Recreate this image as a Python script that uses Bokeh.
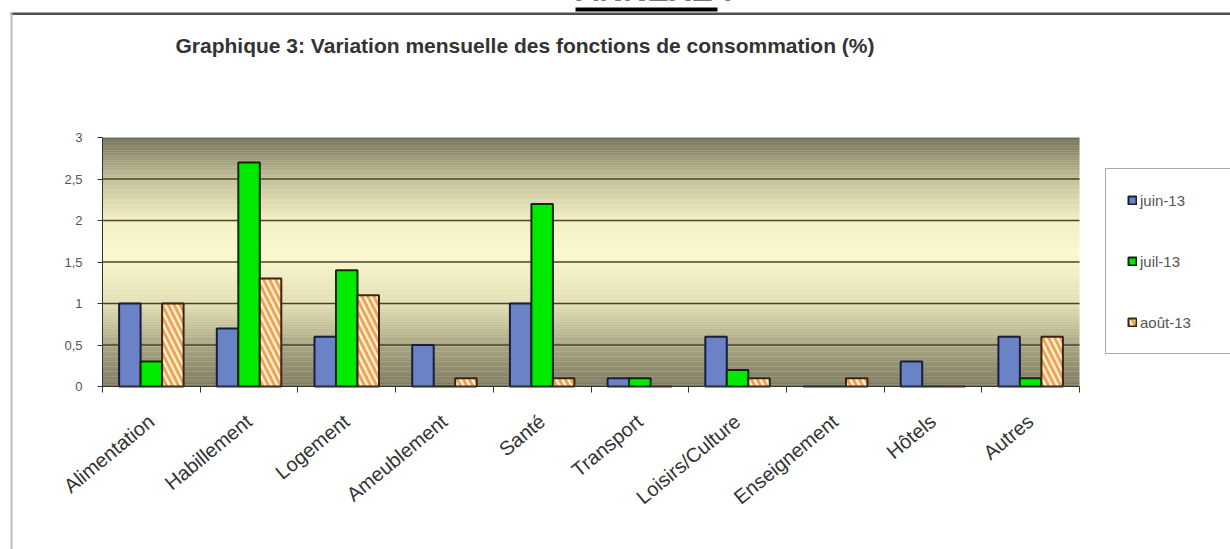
import numpy as np
from bokeh.plotting import figure
from bokeh.models import (ColumnDataSource, FixedTicker, CustomJSTickFormatter, Label,
                          Legend, LegendItem, BoxAnnotation, Range1d)
from bokeh.transform import dodge
from bokeh.embed import file_html
from bokeh.resources import INLINE

# ---------------- data ----------------
categories = ["Alimentation", "Habillement", "Logement", "Ameublement", "Santé",
              "Transport", "Loisirs/Culture", "Enseignement", "Hôtels", "Autres"]
juin_13 = [1.0, 0.7, 0.6, 0.5, 1.0, 0.1, 0.6, 0.0, 0.3, 0.6]
juil_13 = [0.3, 2.7, 1.4, 0.0, 2.2, 0.1, 0.2, 0.0, 0.0, 0.1]
aout_13 = [1.0, 1.3, 1.1, 0.1, 0.1, 0.0, 0.1, 0.1, 0.0, 0.6]
series_names = ["juin-13", "juil-13", "août-13"]
y_ticks = [0, 0.5, 1, 1.5, 2, 2.5, 3]
title_text = "Graphique 3: Variation mensuelle des fonctions de consommation (%)"
annexe_text = "ANNEXE :"

FONT = "Liberation Sans"
W, H = 1230, 549
n = len(categories)
ymax = 3
# plot-area placement in canvas pixels
PX_L, PX_R, PX_T, PX_B = 102, 1079, 137, 386
sx = (PX_R - PX_L) / n
sy = (PX_B - PX_T) / ymax
x0 = -PX_L / sx
x1 = n + (W - PX_R) / sx
y0 = -(H - PX_B) / sy
y1 = ymax + PX_T / sy

centers = [i + 0.5 for i in range(n)]
bounds = list(range(n + 1))
src = ColumnDataSource(dict(x=centers, juin=juin_13, juil=juil_13, aout=aout_13))

p = figure(width=W, height=H, output_backend="svg", toolbar_location=None,
           x_range=Range1d(x0, x1), y_range=Range1d(y0, y1),
           min_border=0)
p.outline_line_color = None
p.border_fill_color = "white"
p.background_fill_color = "white"
p.xgrid.visible = False
p.ygrid.visible = False

# ---- background vertical gradient of the plot area (decorative) ----
stops_y = [0.0, 0.5, 1.0, 1.6, 2.0, 2.5, 3.0]
stops_c = ["#7e7b61", "#aaa784", "#e3dfb3", "#fcf9cf", "#f3efc1", "#c4c199", "#727157"]
def hex2rgb(h):
    return np.array([int(h[i:i + 2], 16) for i in (1, 3, 5)], dtype=float)
rgb = np.array([hex2rgb(c) for c in stops_c])
edges = np.linspace(0, ymax, 151)
mids = (edges[:-1] + edges[1:]) / 2
cols = []
for m in mids:
    r = np.interp(m, stops_y, rgb[:, 0]); g = np.interp(m, stops_y, rgb[:, 1]); b = np.interp(m, stops_y, rgb[:, 2])
    cols.append("#%02x%02x%02x" % (int(r), int(g), int(b)))
tops = np.minimum(edges[1:] + 0.003, ymax)
p.quad(left=0, right=n, bottom=edges[:-1], top=tops, fill_color=cols, line_color=None)

# grid lines
gy = y_ticks[1:-1]
p.segment(x0=[0] * len(gy), x1=[n] * len(gy), y0=gy, y1=gy, line_color="#47462f", line_width=1.6)

# ---- bars ----
bw = 0.22
r1 = p.vbar(x=dodge("x", -bw), top="juin", width=bw, source=src,
            fill_color="#6a82c6", line_color="#1b1d3c", line_width=2)
r2 = p.vbar(x=dodge("x", 0), top="juil", width=bw, source=src,
            fill_color="#00ea00", line_color="#0c2a08", line_width=2)
r3 = p.vbar(x=dodge("x", bw), top="aout", width=bw, source=src,
            fill_color="#fff2cf", line_color="#3b2412", line_width=2,
            hatch_pattern="left_diagonal_line", hatch_color="#f0a15a", hatch_scale=12, hatch_weight=3)

# ---- axes ----
xa = p.xaxis[0]
xa.fixed_location = 0
xa.bounds = (0, n)
xa.ticker = FixedTicker(ticks=centers, minor_ticks=bounds)
xa.formatter = CustomJSTickFormatter(args=dict(cats=categories),
                                     code="return cats[Math.floor(tick)];")
xa.major_tick_out = 0
xa.major_tick_in = 0
xa.minor_tick_out = 6
xa.minor_tick_in = 0
xa.minor_tick_line_color = "#333333"
xa.axis_line_color = "#333333"
xa.major_label_orientation = 0.69
xa.major_label_standoff = 26
xa.major_label_text_font = FONT
xa.major_label_text_font_size = "20px"
xa.major_label_text_color = "#333333"

ya = p.yaxis[0]
ya.fixed_location = 0
ya.bounds = (0, ymax)
ya.ticker = FixedTicker(ticks=y_ticks)
ya.formatter = CustomJSTickFormatter(code="return tick.toString().replace('.', ',');")
ya.major_tick_out = 5
ya.major_tick_in = 0
ya.minor_tick_out = 0
ya.minor_tick_in = 0
ya.axis_line_color = "#333333"
ya.major_tick_line_color = "#333333"
ya.major_label_standoff = 15
ya.major_label_text_font = FONT
ya.major_label_text_font_size = "13px"
ya.major_label_text_color = "#555555"

# ---- legend ----
legend = Legend(items=[LegendItem(label=series_names[0], renderers=[r1]),
                       LegendItem(label=series_names[1], renderers=[r2]),
                       LegendItem(label=series_names[2], renderers=[r3])],
                location=(1105, H - 354), orientation="vertical",
                glyph_width=10, glyph_height=10, label_height=20, label_standoff=3,
                label_width=72, spacing=41, padding=21, margin=0,
                label_text_font=FONT, label_text_font_size="15px", label_text_color="#555555",
                border_line_color="#555555", border_line_width=1,
                background_fill_color="white", background_fill_alpha=1)
p.add_layout(legend, "center")

# ---- title & page decorations ----
p.add_layout(Label(x=175, y=H - 45, x_units="screen", y_units="screen", text=title_text,
                   text_font=FONT, text_font_style="bold", text_font_size="21px",
                   text_color="#333333", text_baseline="middle", text_align="left"))
p.add_layout(Label(x=575, y=H + 11, x_units="screen", y_units="screen", text=annexe_text,
                   text_font=FONT, text_font_style="bold", text_font_size="33px",
                   text_color="black", text_baseline="alphabetic", text_align="left"))
def box(l, r, t, b, color):
    return BoxAnnotation(left=l, right=r, top=H - t, bottom=H - b,
                         left_units="screen", right_units="screen",
                         bottom_units="screen", top_units="screen",
                         fill_color=color, fill_alpha=1, line_color=None)
p.add_layout(box(575, 717, 7, 11, "black"))
p.add_layout(box(10, W, 12, 14.5, "#505050"))
p.add_layout(box(10, 12, 12, H, "#bdbdbd"))

open("out.html", "w").write(file_html(p, INLINE))
